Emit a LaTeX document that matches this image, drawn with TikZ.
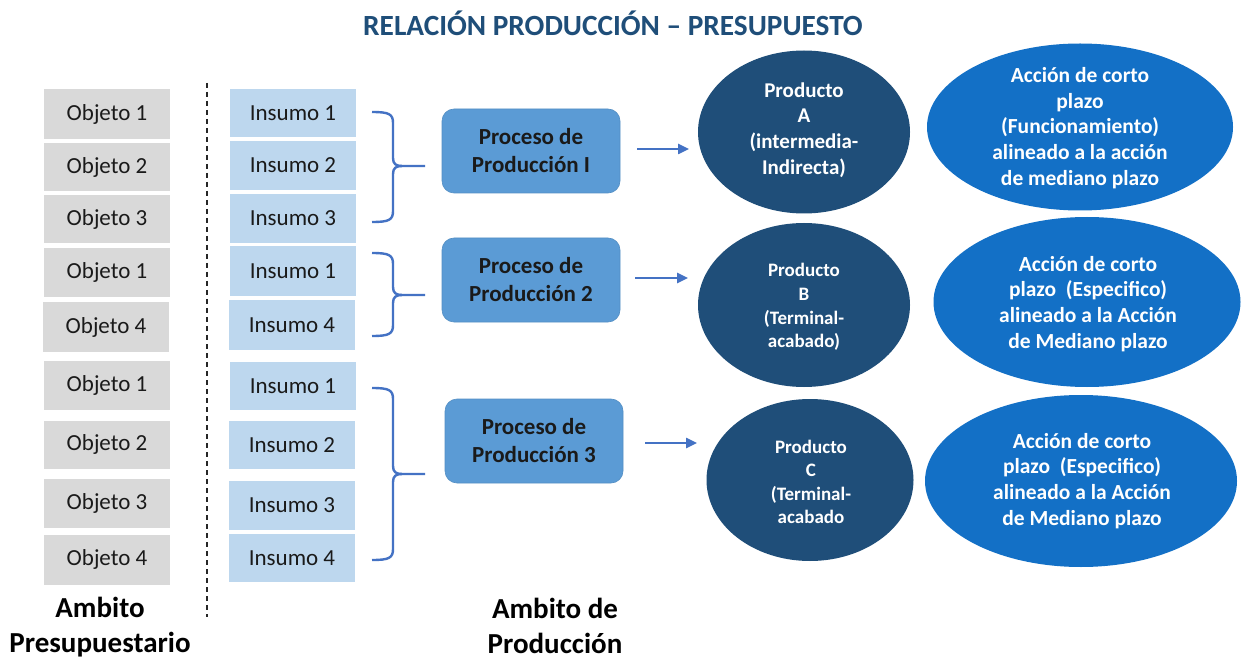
\documentclass[tikz,border=0pt]{standalone}
\usepackage{fontspec}
\setmainfont{Carlito}
\usetikzlibrary{arrows.meta,shapes.geometric}
\definecolor{objgray}{HTML}{D9D9D9}
\definecolor{insblue}{HTML}{BDD7EE}
\definecolor{procblue}{HTML}{5B9BD5}
\definecolor{proddark}{HTML}{1F4E79}
\definecolor{accblue}{HTML}{1370C6}
\definecolor{linkblue}{HTML}{4472C4}
\definecolor{titleblue}{HTML}{1F4E79}
\definecolor{txtdark}{HTML}{1A1A1A}
\newcommand\mybrace[3]{%
  \draw[bracestyle] (372,#1) .. controls (389,#1) and (393,{#1+2}) .. (393,{#1+11})
    -- (393,{#2-8}) .. controls (393,{#2-2}) and (396,#2) .. (402,#2) -- (425,#2);
  \draw[bracestyle] (402,#2) .. controls (396,#2) and (393,{#2+2}) .. (393,{#2+8})
    -- (393,{#3-11}) .. controls (393,{#3-2}) and (389,#3) .. (372,#3);}
\begin{document}
\begin{tikzpicture}[x=1pt,y=-1pt,
  objbox/.style={fill=objgray, minimum width=126pt, inner sep=0pt, text=txtdark,
    font=\fontsize{23}{28}\selectfont},
  insbox/.style={fill=insblue, minimum width=126pt, inner sep=0pt, text=txtdark,
    font=\fontsize{23}{28}\selectfont},
  procbox/.style={fill=procblue, draw=procblue!92!black, line width=0.6pt,
    rounded corners=12pt, minimum width=178pt, minimum height=84pt, inner sep=0pt,
    align=center, text=txtdark, font=\bfseries\fontsize{23}{28}\selectfont},
  prodshape/.style={ellipse, fill=proddark, inner sep=0pt},
  accshape/.style={ellipse, fill=accblue, inner sep=0pt},
  prodtxt/.style={align=center, text=white, inner sep=0pt,
    font=\bfseries\fontsize{19}{23.6}\selectfont},
  prodtxtA/.style={align=center, text=white, inner sep=0pt,
    font=\bfseries\fontsize{21}{25.8}\selectfont},
  acctxt/.style={align=center, text=white, inner sep=0pt,
    font=\bfseries\fontsize{21.5}{25.8}\selectfont},
  bracestyle/.style={draw=linkblue, line width=2.4pt},
  arr/.style={draw=linkblue, line width=2.4pt, -{Triangle[length=11pt,width=10pt]}},
  sepline/.style={draw=black!85, line width=1.8pt, dash pattern=on 5pt off 4pt},
  bottomlbl/.style={align=center, text=black, inner sep=0pt,
    font=\bfseries\fontsize{29}{35}\selectfont},
  titlestyle/.style={text=titleblue, inner sep=0pt, font=\bfseries\fontsize{29.3}{34}\selectfont}
]
\useasboundingbox (0,0) rectangle (1242,660);
\fill[white] (0,0) rectangle (1242,660);

% title
\node[titlestyle] (title) at (613,23) {RELACIÓN PRODUCCIÓN – PRESUPUESTO};

% Objeto column
\node[objbox, minimum height=50pt] (o1) at (107,114) {Objeto 1};
\node[objbox, minimum height=48pt] (o2) at (107,167) {Objeto 2};
\node[objbox, minimum height=48pt] (o3) at (107,219) {Objeto 3};
\node[objbox, minimum height=49pt] (o4) at (107,272.5) {Objeto 1};
\node[objbox, minimum height=50pt] (o5) at (106,327) {Objeto 4};
\node[objbox, minimum height=49pt] (o6) at (107,385.5) {Objeto 1};
\node[objbox, minimum height=48pt] (o7) at (107,444.5) {Objeto 2};
\node[objbox, minimum height=49pt] (o8) at (107,503.5) {Objeto 3};
\node[objbox, minimum height=50pt] (o9) at (107,559.5) {Objeto 4};

% separator
\coordinate (d1) at (207,83);
\coordinate (d2) at (207,617);
\draw[sepline] (d1) -- (d2);

% Insumo column
\node[insbox, minimum height=48pt] (i1) at (293,113) {Insumo 1};
\node[insbox, minimum height=49pt] (i2) at (293,165.5) {Insumo 2};
\node[insbox, minimum height=49pt] (i3) at (293,218.5) {Insumo 3};
\node[insbox, minimum height=50pt] (i4) at (293,271) {Insumo 1};
\node[insbox, minimum height=50pt] (i5) at (292,325) {Insumo 4};
\node[insbox, minimum height=48pt] (i6) at (293,386) {Insumo 1};
\node[insbox, minimum height=48pt] (i7) at (292,445) {Insumo 2};
\node[insbox, minimum height=49pt] (i8) at (292,505.5) {Insumo 3};
\node[insbox, minimum height=48pt] (i9) at (292,558) {Insumo 4};

% braces
\mybrace{112}{166}{222}
\mybrace{253}{295}{336}
\mybrace{388}{474}{560}

% process boxes
\node[procbox] (p1) at (531,151) {Proceso de\\Producción I};
\node[procbox] (p2) at (531,280) {Proceso de\\Producción 2};
\node[procbox] (p3) at (534,441) {Proceso de\\Producción 3};

% arrows
\coordinate (s1) at (637,149); \coordinate (e1) at (689,149);
\coordinate (s2) at (635,278); \coordinate (e2) at (688,278);
\coordinate (s3) at (645,443); \coordinate (e3) at (697,443);
\draw[arr] (s1) -- (e1);
\draw[arr] (s2) -- (e2);
\draw[arr] (s3) -- (e3);

% product circles
\node[prodshape, minimum width=212pt, minimum height=163pt] (pa) at (804,132) {};
\node[prodtxtA] (pat) at (804,130) {Producto\\A\\(intermedia-\\Indirecta)};
\node[prodshape, minimum width=212pt, minimum height=164pt] (pb) at (804,305) {};
\node[prodtxt] (pbt) at (804,307) {Producto\\B\\(Terminal-\\acabado)};
\node[prodshape, minimum width=207pt, minimum height=162pt] (pc) at (810,480) {};
\node[prodtxt] (pct) at (811,482) {Producto\\C\\(Terminal-\\acabado};

% action ellipses
\node[accshape, minimum width=306pt, minimum height=167pt] (ea) at (1080,127) {};
\node[acctxt] (eat) at (1080,128) {Acción de corto\\plazo\\(Funcionamiento)\\alineado a la acción\\de mediano plazo};
\node[accshape, minimum width=307pt, minimum height=170pt] (eb) at (1087,302) {};
\node[acctxt] (ebt) at (1088,304) {Acción de corto\\plazo\ \ (Especifico)\\alineado a la Acción\\de Mediano plazo};
\node[accshape, minimum width=312pt, minimum height=172pt] (ec) at (1081,481) {};
\node[acctxt] (ect) at (1082,481) {Acción de corto\\plazo\ \ (Especifico)\\alineado a la Acción\\de Mediano plazo};

% bottom labels
\node[bottomlbl] (lb1) at (100,627) {Ambito\\Presupuestario};
\node[bottomlbl] (lb2) at (555,626) {Ambito de\\Producción};
\end{tikzpicture}
\end{document}
